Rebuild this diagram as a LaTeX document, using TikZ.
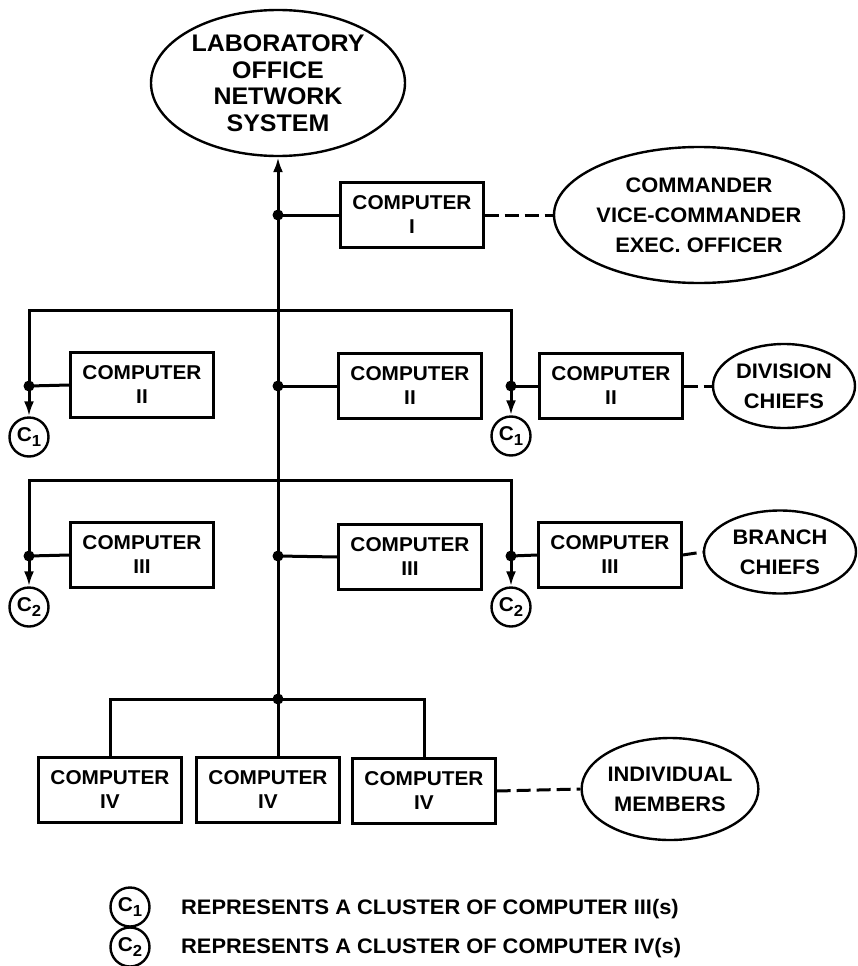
\documentclass[tikz,border=0pt]{standalone}
\usepackage{fontspec}
\setmainfont{Liberation Sans}[FakeStretch=1.04]
\usetikzlibrary{shapes.geometric,arrows.meta}
\newcommand\mybxfont{\fontsize{20}{24}\selectfont\bfseries}
\newcommand\myovfont{\fontsize{21}{30}\selectfont\bfseries}
\newcommand\mylgfont{\fontsize{21}{24}\selectfont\bfseries}
\newcommand\myC[1]{{\fontsize{20}{20}\selectfont\bfseries C\raisebox{-5pt}{\fontsize{16}{16}\selectfont #1}}}
\begin{document}
\begin{tikzpicture}[x=1pt,y=-1pt,
  comp/.style={draw, line width=2.4pt, minimum width=143pt, minimum height=65pt, inner sep=0pt, align=center, font=\mybxfont},
  oval/.style={draw, ellipse, line width=2.4pt, inner sep=0pt, align=center, font=\myovfont},
  bus/.style={line width=3pt},
  dashline/.style={line width=3pt, dash pattern=on 14pt off 6pt},
  jdot/.style={circle, fill, inner sep=0pt, minimum size=11pt},
  cl/.style={draw, circle, line width=2.4pt, minimum size=39pt, inner sep=0pt},
  tip/.style={-{Latex[length=15pt,width=10pt]}}
]
\useasboundingbox (0,0) rectangle (857,966);

% top
\node[oval, minimum width=254pt, minimum height=146pt, font=\fontsize{24}{26.5}\selectfont\bfseries] (lons) at (278,83) {LABORATORY\\OFFICE\\NETWORK\\SYSTEM};

% junctions on main line
\node[jdot] (j1) at (278,215) {};
\node[jdot] (j2) at (278,386) {};
\node[jdot] (j3) at (278,556) {};
\node[jdot] (j4) at (278,699) {};

% level I
\node[comp] (c1) at (412,215) {COMPUTER\\I};
\node[oval, minimum width=222pt, minimum height=136pt] (cmd) at (699,215) {COMMANDER\\VICE-COMMANDER\\EXEC. OFFICER};

% level II
\node[jdot] (jl2) at (29,386) {};
\node[jdot] (jr2) at (511,386) {};
\coordinate (b1l) at (29,310);
\coordinate (b1r) at (511,310);
\node[comp] (c2l) at (142,385) {COMPUTER\\II};
\node[comp] (c2m) at (410,386) {COMPUTER\\II};
\node[comp] (c2r) at (611,386) {COMPUTER\\II};
\node[cl] (k1l) at (29,437) {\myC{1}};
\node[cl] (k1r) at (511,436) {\myC{1}};
\node[oval, minimum width=142pt, minimum height=84pt] (div) at (784,386) {DIVISION\\CHIEFS};

% level III
\node[jdot] (jl3) at (29,556) {};
\node[jdot] (jr3) at (511,556) {};
\coordinate (b2l) at (29,480);
\coordinate (b2r) at (511,480);
\node[comp] (c3l) at (142,555) {COMPUTER\\III};
\node[comp] (c3m) at (410,557) {COMPUTER\\III};
\node[comp] (c3r) at (610,555) {COMPUTER\\III};
\node[cl] (k2l) at (29,607) {\myC{2}};
\node[cl] (k2r) at (511,607) {\myC{2}};
\node[oval, minimum width=152pt, minimum height=83pt] (br) at (780,552) {BRANCH\\CHIEFS};

% level IV
\coordinate (b3l) at (110,699);
\coordinate (b3r) at (424,699);
\node[comp] (c4a) at (110,790) {COMPUTER\\IV};
\node[comp] (c4b) at (268,790) {COMPUTER\\IV};
\node[comp] (c4c) at (424,791) {COMPUTER\\IV};
\node[oval, minimum width=171pt, minimum height=102pt] (ind) at (670,789) {INDIVIDUAL\\MEMBERS};

% main line
\draw[bus, tip] (j4.center) -- (lons.south);
\draw[bus] (j1.center) -- (c1.west);
\draw[dashline] (c1.east) -- (cmd.west);

\draw[bus] (jl2.center) -- (b1l) -- (b1r) -- (jr2.center);
\draw[bus, tip] (jl2.center) -- (k1l.north);
\draw[bus, tip] (jr2.center) -- (k1r.north);
\draw[bus] (jl2.center) -- (c2l.west);
\draw[bus] (j2.center) -- (c2m.west);
\draw[bus] (jr2.center) -- (c2r.west);
\draw[dashline] (c2r.east) -- (div.west);

\draw[bus] (jl3.center) -- (b2l) -- (b2r) -- (jr3.center);
\draw[bus, tip] (jl3.center) -- (k2l.north);
\draw[bus, tip] (jr3.center) -- (k2r.north);
\draw[bus] (jl3.center) -- (c3l.west);
\draw[bus] (j3.center) -- (c3m.west);
\draw[bus] (jr3.center) -- (c3r.west);
\draw[dashline] (c3r.east) -- (br.west);

\draw[bus] (c4a.north) -- (b3l) -- (b3r) -- (c4c.north);
\draw[bus] (j4.center) -- (j4 |- c4b.north);
\draw[dashline] (c4c.east) -- (ind.west);

% legend
\node[cl] (lg1) at (130,907) {\myC{1}};
\node[cl] (lg2) at (130,947) {\myC{2}};
\node[anchor=west, inner sep=0pt, font=\mylgfont] (lt1) at (181,909) {REPRESENTS A CLUSTER OF COMPUTER III(s)};
\node[anchor=west, inner sep=0pt, font=\mylgfont] (lt2) at (181,948) {REPRESENTS A CLUSTER OF COMPUTER IV(s)};
\end{tikzpicture}
\end{document}
